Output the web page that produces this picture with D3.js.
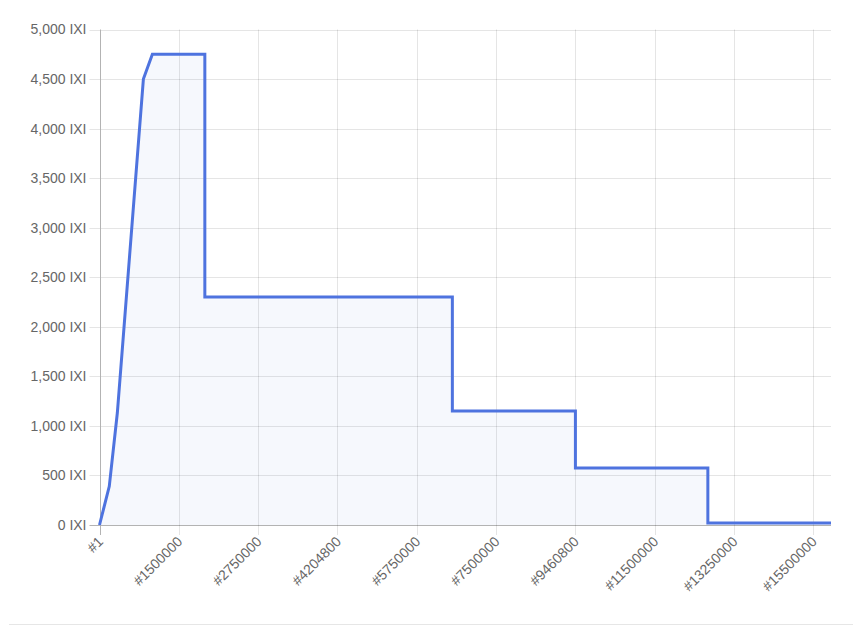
<!DOCTYPE html>
<html>
<head>
<meta charset="utf-8">
<script src="https://cdn.jsdelivr.net/npm/d3@7"></script>
<style>
  html, body { margin: 0; padding: 0; background: #fff; }
  svg { display: block; }
</style>
</head>
<body>
<svg id="chart" width="853" height="627"></svg>
<script>
// ---- data ----
// block numbers shown as x tick labels
const tickBlocks = [1, 1500000, 2750000, 4204800, 5750000, 7500000, 9460800, 11500000, 13250000, 15500000];
// block numbers of the line's vertices
const blocks = [1, 185000, 337000, 830000, 1000000, 1910000, 1910000, 6535000, 6535000, 9460800, 9460800, 12672000, 12672000, 16000000];
// reward (IXI) at each vertex
const rewards = [0, 390, 1130, 4500, 4750, 4750, 2300, 2300, 1150, 1150, 575, 575, 20, 20];
// y tick values
const yTicks = [0, 500, 1000, 1500, 2000, 2500, 3000, 3500, 4000, 4500, 5000];

const data = blocks.map((b, i) => ({ block: b, value: rewards[i] }));

// ---- layout ----
const svg = d3.select("#chart");
const plotLeft = 99.5, plotRight = 831, plotTop = 29.5, plotBottom = 525;
const fontFamily = "'Liberation Sans', Arial, Helvetica, sans-serif";
const textColor = "#666";
const lineColor = "rgb(78,115,223)";

// block -> tick index (piecewise linear through the labelled blocks)
const blockToIdx = d3.scaleLinear().domain(tickBlocks).range(tickBlocks.map((d, i) => i));
const lastIdx = blockToIdx(d3.max(blocks));
const idxToPx = d3.scaleLinear().domain([0, lastIdx]).range([plotLeft, plotRight]);
const x = d => idxToPx(blockToIdx(d));
const y = d3.scaleLinear().domain([0, 5000]).range([plotBottom, plotTop]);

const g = svg.append("g");

// horizontal grid lines (with tick marks to the left)
g.selectAll(".hgrid").data(yTicks).enter().append("line")
  .attr("x1", plotLeft - 10).attr("x2", plotRight)
  .attr("y1", d => Math.round(y(d)) + 0.5).attr("y2", d => Math.round(y(d)) + 0.5)
  .attr("stroke", d => d === 0 ? "#b3b3b3" : "rgba(0,0,0,0.1)")
  .attr("stroke-width", 1);

// vertical grid lines (with tick marks below)
g.selectAll(".vgrid").data(tickBlocks).enter().append("line")
  .attr("x1", d => Math.round(x(d)) + 0.5).attr("x2", d => Math.round(x(d)) + 0.5)
  .attr("y1", plotTop).attr("y2", plotBottom + 10)
  .attr("stroke", (d, i) => i === 0 ? "#b3b3b3" : "rgba(0,0,0,0.1)")
  .attr("stroke-width", 1);

// y axis labels
const fmt = d3.format(",");
g.selectAll(".ylab").data(yTicks).enter().append("text")
  .attr("x", plotLeft - 13).attr("y", d => y(d)).attr("dy", "0.35em")
  .attr("text-anchor", "end")
  .attr("font-family", fontFamily).attr("font-size", 14)
  .attr("fill", textColor)
  .text(d => fmt(d) + " IXI");

// x axis labels (rotated)
g.selectAll(".xlab").data(tickBlocks).enter().append("text")
  .attr("transform", d => `translate(${x(d) + 1},${plotBottom + 14}) rotate(-45)`)
  .attr("dy", "0.35em")
  .attr("text-anchor", "end")
  .attr("font-family", fontFamily).attr("font-size", 14)
  .attr("fill", textColor)
  .text(d => "#" + d);

// area fill
const area = d3.area().x(d => x(d.block)).y0(y(0)).y1(d => y(d.value));
g.append("path").datum(data)
  .attr("d", area)
  .attr("fill", "rgba(78,115,223,0.05)");

// line
const line = d3.line().x(d => x(d.block)).y(d => y(d.value));
g.append("path").datum(data)
  .attr("d", line)
  .attr("fill", "none")
  .attr("stroke", lineColor)
  .attr("stroke-width", 3)
  .attr("stroke-linejoin", "miter");

// bottom separator line
svg.append("line")
  .attr("x1", 9).attr("x2", 853)
  .attr("y1", 624.5).attr("y2", 624.5)
  .attr("stroke", "#e6e6e6").attr("stroke-width", 1);
</script>
</body>
</html>
